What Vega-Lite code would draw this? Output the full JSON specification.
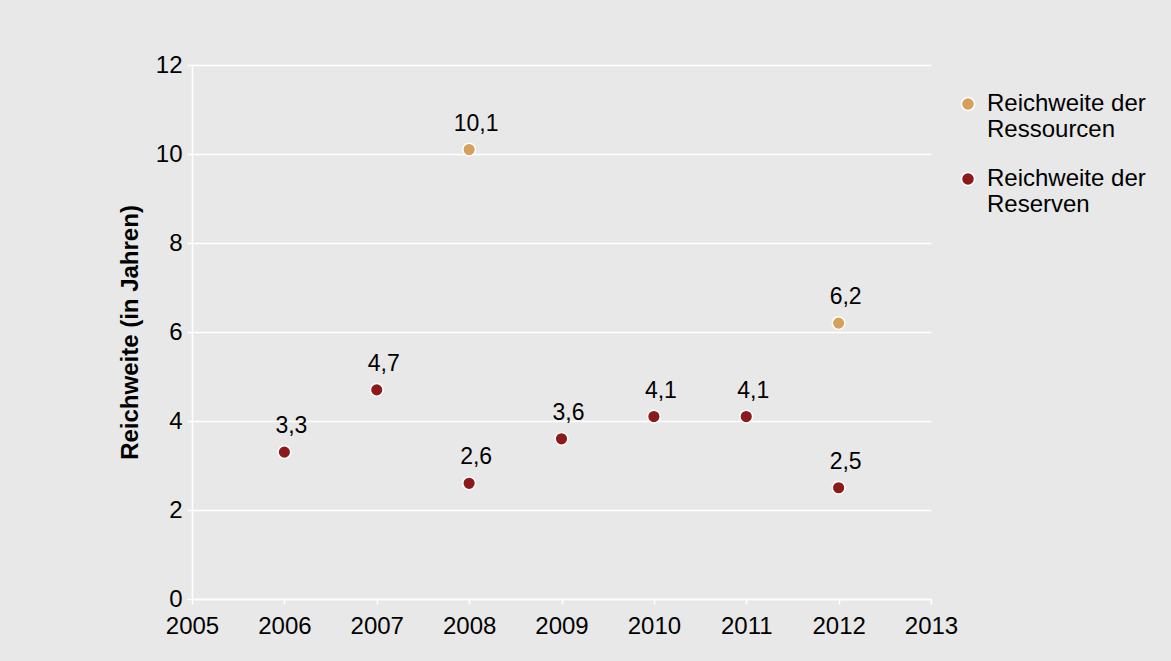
{
  "$schema": "https://vega.github.io/schema/vega-lite/v6.json",
  "width": 739,
  "height": 534,
  "autosize": {"type": "none"},
  "padding": {"left": 192, "top": 65, "right": 240, "bottom": 62},
  "background": "#e8e8e8",
  "config": {
    "font": "Liberation Sans",
    "view": {"stroke": null},
    "locale": {"number": {"decimal": ",", "thousands": ".", "grouping": [3], "currency": ["", " €"]}}
  },
  "data": {
    "values": [
      {"jahr": 2008, "wert": 10.1, "serie": "Reichweite der Ressourcen"},
      {"jahr": 2012, "wert": 6.2, "serie": "Reichweite der Ressourcen"},
      {"jahr": 2006, "wert": 3.3, "serie": "Reichweite der Reserven"},
      {"jahr": 2007, "wert": 4.7, "serie": "Reichweite der Reserven"},
      {"jahr": 2008, "wert": 2.6, "serie": "Reichweite der Reserven"},
      {"jahr": 2009, "wert": 3.6, "serie": "Reichweite der Reserven"},
      {"jahr": 2010, "wert": 4.1, "serie": "Reichweite der Reserven"},
      {"jahr": 2011, "wert": 4.1, "serie": "Reichweite der Reserven"},
      {"jahr": 2012, "wert": 2.5, "serie": "Reichweite der Reserven"}
    ]
  },
  "encoding": {
    "x": {
      "field": "jahr", "type": "quantitative",
      "scale": {"domain": [2005, 2013], "nice": false, "zero": false},
      "axis": {
        "title": null, "format": "d", "values": [2005, 2006, 2007, 2008, 2009, 2010, 2011, 2012, 2013],
        "grid": false, "domain": true, "domainColor": "white", "domainWidth": 1.5,
        "tickColor": "white", "tickSize": 5, "tickWidth": 1.5,
        "labelFontSize": 24, "labelColor": "black", "labelPadding": 10, "labelFlush": false, "labelDx": 9
      }
    },
    "y": {
      "field": "wert", "type": "quantitative",
      "scale": {"domain": [0, 12], "nice": false},
      "axis": {
        "title": "Reichweite (in Jahren)", "titleFontSize": 24, "titleFontWeight": "bold", "titleColor": "black", "titlePadding": 13,
        "values": [0, 2, 4, 6, 8, 10, 12], "format": "d",
        "grid": true, "gridColor": "white", "gridWidth": 1.5,
        "domain": true, "domainColor": "white", "domainWidth": 1.5,
        "tickColor": "white", "tickSize": 5, "tickWidth": 1.5,
        "labelFontSize": 24, "labelColor": "black", "labelPadding": 5, "labelDy": -2
      }
    }
  },
  "layer": [
    {
      "mark": {"type": "point", "filled": true, "size": 160, "stroke": "white", "strokeWidth": 1.5, "opacity": 1},
      "encoding": {
        "color": {
          "field": "serie", "type": "nominal",
          "scale": {"domain": ["Reichweite der Ressourcen", "Reichweite der Reserven"], "range": ["#d6a05a", "#8b1a1a"]},
          "legend": {
            "title": null, "orient": "none", "legendX": 764, "legendY": 27,
            "labelFontSize": 24, "labelColor": "black", "labelLimit": 400,
            "labelExpr": "[split(datum.label, ' der ')[0] + ' der', split(datum.label, ' der ')[1]]",
            "symbolType": "circle", "symbolSize": 170, "symbolStrokeColor": "white", "symbolStrokeWidth": 1.5,
            "rowPadding": 25, "labelOffset": 7
          }
        }
      }
    },
    {
      "mark": {"type": "text", "fontSize": 23, "baseline": "bottom", "dy": -14, "dx": 7, "color": "black"},
      "encoding": {"text": {"field": "wert", "type": "quantitative", "format": ".1f"}}
    }
  ]
}
